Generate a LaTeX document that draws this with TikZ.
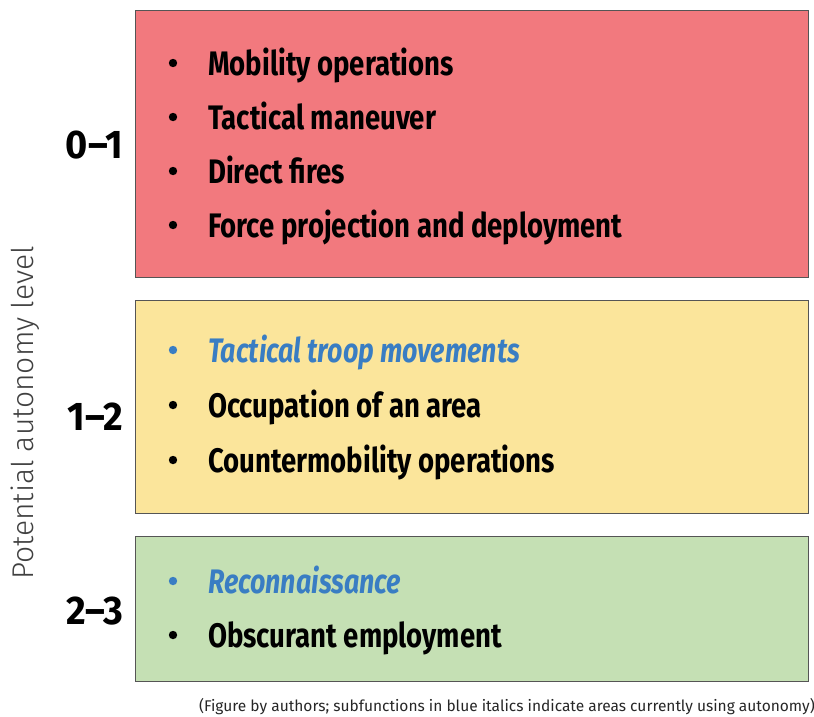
\documentclass[tikz,border=0pt]{standalone}
\usepackage{fontspec}
\setmainfont{Fira Sans}
\newfontfamily\itemfont[FakeStretch=0.81]{Fira Sans}
\newfontfamily\useditemfont[FakeStretch=0.79]{Fira Sans}
\newfontfamily\levelfont[FakeStretch=0.95]{Fira Sans}
\newfontfamily\lightfont{Fira Sans Light}

\definecolor{lvlred}{RGB}{242,121,126}
\definecolor{lvlyellow}{RGB}{251,229,155}
\definecolor{lvlgreen}{RGB}{197,224,180}
\definecolor{usedblue}{RGB}{57,125,195}
\definecolor{boxline}{RGB}{85,85,85}

\tikzset{
	lvlbox/.style={draw=boxline,line width=1pt},
	item/.style={anchor=base west,inner sep=0pt,font=\itemfont\bfseries\fontsize{34}{38}\selectfont},
	useditem/.style={item,text=usedblue,font=\useditemfont\bfseries\itshape\fontsize{34}{38}\selectfont},
	level/.style={anchor=east,inner sep=0pt,font=\levelfont\bfseries\fontsize{40}{44}\selectfont}
}

\begin{document}
\begin{tikzpicture}[x=1pt,y=-1pt]
	\useasboundingbox (0,0) rectangle (814,716);
	
	% level boxes
	\draw[lvlbox,fill=lvlred]    (135,10)  rectangle (808,277);
	\draw[lvlbox,fill=lvlyellow] (135,300) rectangle (808,513);
	\draw[lvlbox,fill=lvlgreen]  (135,536) rectangle (808,681);
	
	% levels
	\node[level] (lvlA) at (123,145) {0–1};
	\node[level] (lvlB) at (123,417) {1–2};
	\node[level] (lvlC) at (123,611) {2–3};
	
	\node[rotate=90,inner sep=0pt,font=\lightfont\fontsize{30}{36}\selectfont,text=black!75] (axis) at (25,413) {Potential autonomy level};
	
	% red box
	\foreach \txt [count=\i] in {Mobility operations,Tactical maneuver,Direct fires,Force projection and deployment}{
		\pgfmathsetmacro{\yb}{21+54*\i}
		\node[item] (red\i) at (208,\yb) {\txt};
		\fill (173,\yb-12) circle (4.2);
	}
	
	% yellow box
	\node[useditem] (yel1) at (208,362) {Tactical troop movements};
	\fill[usedblue] (173,350) circle (4.2);
	\node[item] (yel2) at (208,417) {Occupation of an area};
	\fill (173,405) circle (4.2);
	\node[item] (yel3) at (208,472) {Countermobility operations};
	\fill (173,460) circle (4.2);
	
	% green box
	\node[useditem] (grn1) at (208,593) {Reconnaissance};
	\fill[usedblue] (173,581) circle (4.2);
	\node[item] (grn2) at (208,647) {Obscurant employment};
	\fill (173,635) circle (4.2);
	
	\node[anchor=base east,inner sep=0pt,font=\fontsize{15.5}{18}\selectfont,text=black!85] (note) at (815,711)
	{(Figure by authors; subfunctions in blue italics indicate areas currently using autonomy)};
\end{tikzpicture}
\end{document}
